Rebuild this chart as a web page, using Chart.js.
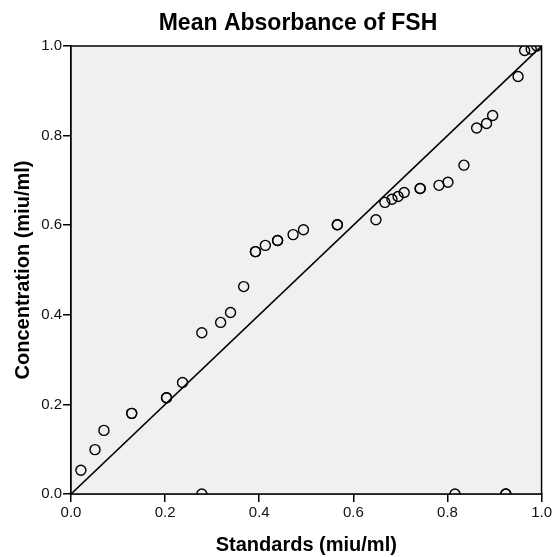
<!DOCTYPE html>
<html>
<head>
<meta charset="utf-8">
<script src="https://cdn.jsdelivr.net/npm/chart.js@4.4.1/dist/chart.umd.min.js"></script>
<style>
  html, body { margin: 0; padding: 0; background: #fff; }
  #wrap { width: 554px; height: 557px; position: relative; }
</style>
</head>
<body>
<div id="wrap"><canvas id="chart"></canvas></div>
<script>
const standards = [
  0.021, 0.051, 0.070, 0.129, 0.129, 0.203, 0.203, 0.237, 0.278, 0.318,
  0.339, 0.367, 0.392, 0.392, 0.413, 0.439, 0.439, 0.472, 0.494, 0.566,
  0.566, 0.648, 0.667, 0.682, 0.695, 0.708, 0.742, 0.742, 0.782, 0.801,
  0.835, 0.862, 0.883, 0.896, 0.950, 0.964, 0.978, 0.990,
  0.278, 0.816, 0.924, 0.924
];
const concentration = [
  0.053, 0.099, 0.142, 0.180, 0.180, 0.215, 0.215, 0.249, 0.360, 0.383,
  0.405, 0.463, 0.541, 0.541, 0.555, 0.566, 0.566, 0.579, 0.590, 0.601,
  0.601, 0.612, 0.651, 0.658, 0.664, 0.673, 0.682, 0.682, 0.689, 0.696,
  0.734, 0.817, 0.827, 0.845, 0.932, 0.990, 0.993, 1.000,
  0.000, 0.000, 0.000, 0.000
];
const refLine = [0, 1];
const tickValues = [0, 0.2, 0.4, 0.6, 0.8, 1.0];

const chartTitle = 'Mean Absorbance of FSH';
const xTitle = 'Standards (miu/ml)';
const yTitle = 'Concentration (miu/ml)';

const FONT = '"Liberation Sans", Arial, sans-serif';

// grey plot area + black frame
const plotFrame = {
  id: 'plotFrame',
  beforeDatasetsDraw(chart) {
    const { ctx, chartArea: a } = chart;
    ctx.save();
    ctx.fillStyle = '#f0f0f0';
    ctx.fillRect(a.left, a.top, a.right - a.left, a.bottom - a.top);
    ctx.restore();
  },
  afterDatasetsDraw(chart) {
    const { ctx, chartArea: a } = chart;
    ctx.save();
    ctx.strokeStyle = '#000';
    ctx.lineWidth = 1.5;
    ctx.strokeRect(a.left, a.top, a.right - a.left, a.bottom - a.top);
    ctx.restore();
  }
};

// title sits a bit left of plot centre in the original
const topTitle = {
  id: 'topTitle',
  afterDraw(chart) {
    const { ctx } = chart;
    ctx.save();
    ctx.fillStyle = '#000';
    ctx.font = 'bold 23px ' + FONT;
    ctx.textAlign = 'center';
    ctx.textBaseline = 'middle';
    ctx.fillText(chartTitle, 298, 24);
    ctx.restore();
  }
};

const axisStyle = (title, isX) => ({
  type: 'linear',
  min: 0,
  max: 1,
  afterBuildTicks: s => { s.ticks = tickValues.map(v => ({ value: v })); },
  afterFit: s => { if (isX) s.height = 63; else s.width = 71; },
  grid: { display: true, drawOnChartArea: false, drawTicks: true, tickLength: 8, color: '#000', lineWidth: 1.5 },
  border: { display: true, color: '#000', width: 1.5 },
  ticks: {
    color: '#111',
    font: { family: FONT, size: 15 },
    padding: isX ? 2 : 1,
    callback: v => v.toFixed(1),
  },
  title: {
    display: true,
    text: title,
    color: '#000',
    font: { family: FONT, size: 20, weight: 'bold' },
    padding: isX ? { top: 6, bottom: 0 } : { top: 11, bottom: 0 },
  },
});

new Chart(document.getElementById('chart').getContext('2d'), {
  type: 'scatter',
  data: {
    datasets: [
      {
        type: 'line',
        data: refLine.map(v => ({ x: v, y: v })),
        borderColor: '#000',
        borderWidth: 1.6,
        pointRadius: 0,
        fill: false,
        clip: 0,
      },
      {
        data: standards.map((x, i) => ({ x, y: concentration[i] })),
        pointStyle: 'circle',
        pointRadius: 5,
        pointBorderWidth: 1.4,
        pointBorderColor: '#000',
        pointBackgroundColor: 'rgba(0,0,0,0)',
        clip: 0,
      },
    ],
  },
  options: {
    responsive: true,
    maintainAspectRatio: false,
    animation: false,
    layout: { padding: { top: 46, right: 11, left: 0, bottom: 0 } },
    plugins: { legend: { display: false }, tooltip: { enabled: false } },
    scales: {
      x: axisStyle(xTitle, true),
      y: axisStyle(yTitle, false),
    },
  },
  plugins: [plotFrame, topTitle],
});
</script>
</body>
</html>
